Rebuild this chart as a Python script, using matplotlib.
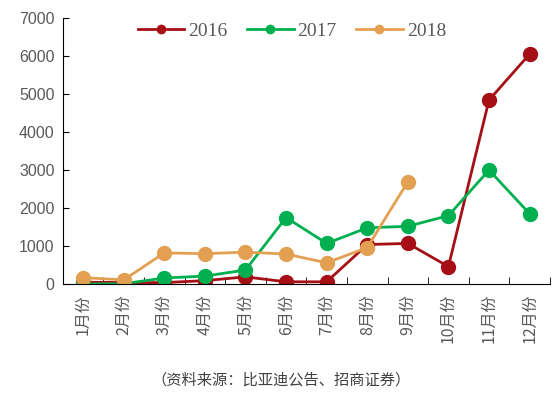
import matplotlib
matplotlib.use("Agg")
import matplotlib.pyplot as plt
import numpy as np

plt.rcParams['font.family'] = ['Liberation Sans', 'Noto Sans CJK SC', 'DejaVu Sans']

# 月份
months = ['1月份', '2月份', '3月份', '4月份', '5月份', '6月份',
          '7月份', '8月份', '9月份', '10月份', '11月份', '12月份']

# 各年销量
v2016 = [50, 40, 40, 90, 190, 60, 60, 1040, 1070, 460, 4840, 6050]
v2017 = [0, 10, 160, 210, 370, 1750, 1070, 1480, 1520, 1800, 3000, 1850]
v2018 = [170, 110, 820, 800, 840, 790, 560, 960, 2690]

fig = plt.figure(figsize=(5.56, 3.99), dpi=100)
ax = fig.add_axes([0.113, 0.288, 0.876, 0.667])

x = np.arange(len(months))
ax.plot(x, v2016, color='#A50F15', lw=2, marker='o', ms=10, label='2016')
ax.plot(x, v2017, color='#00B050', lw=2, marker='o', ms=10, label='2017')
ax.plot(x[:len(v2018)], v2018, color='#E3A052', lw=2, marker='o', ms=10, label='2018')

ax.set_xlim(-0.5, 11.5)
ax.set_ylim(0, 7000)
ax.set_yticks(range(0, 7001, 1000))
ax.tick_params(axis='y', direction='in', length=4, labelsize=11.5, labelcolor='#595959', pad=6)

ax.set_xticks(x)
ax.set_xticklabels(months, rotation=90, fontsize=11.5, color='#595959',
                   family=['Noto Sans CJK SC', 'DejaVu Sans'])
ax.tick_params(axis='x', length=0, pad=7)
ax.set_xticks(np.arange(-0.5, 12, 1), minor=True)
ax.tick_params(axis='x', which='minor', direction='in', length=5)

for s in ['top', 'right']:
    ax.spines[s].set_visible(False)

leg = ax.legend(loc='upper center', bbox_to_anchor=(0.47, 1.05), ncol=3, frameon=False,
                prop={'family': 'Liberation Serif', 'size': 14}, handlelength=2.4,
                columnspacing=1.0, handletextpad=0.2, markerscale=0.6)
for t in leg.get_texts():
    t.set_color('#595959')

fig.text(0.506, 0.048, '（资料来源：比亚迪公告、招商证券）', ha='center', va='center',
         fontsize=11, color='#404040', family=['Noto Sans CJK SC', 'DejaVu Sans'])

fig.savefig('out.png', dpi=100)
